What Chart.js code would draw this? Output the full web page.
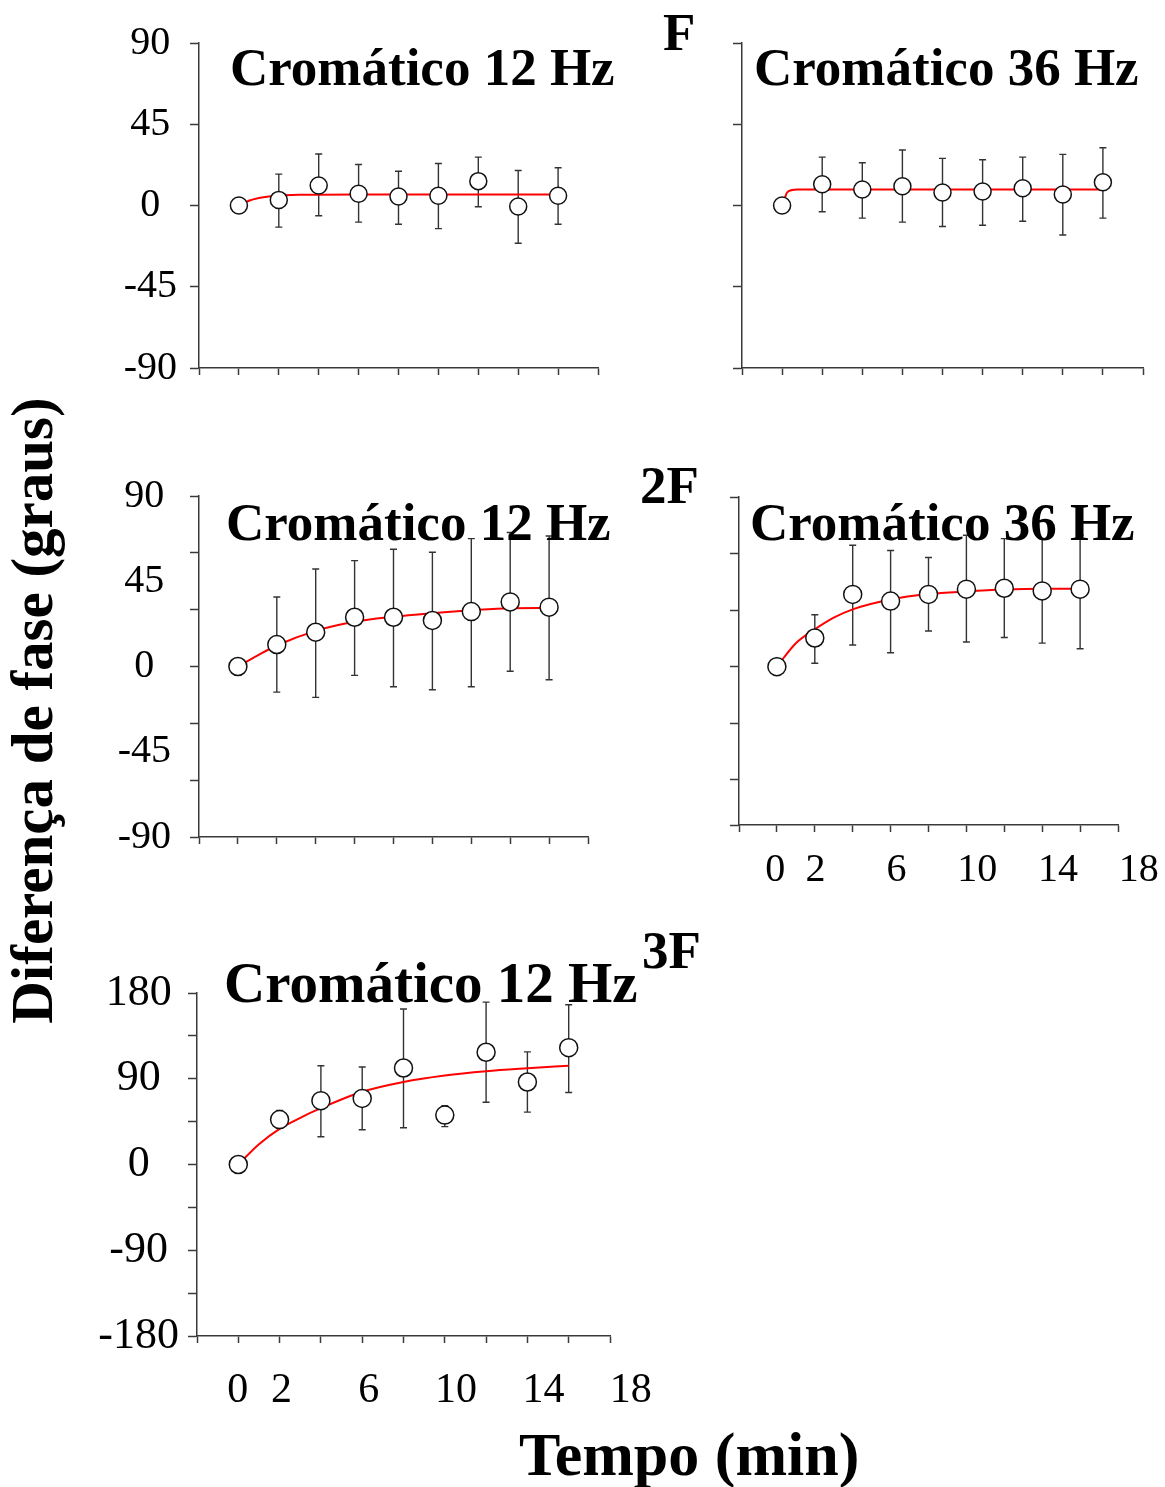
<!DOCTYPE html>
<html>
<head>
<meta charset="utf-8">
<script src="https://cdn.jsdelivr.net/npm/chart.js@4.4.1/dist/chart.umd.min.js"></script>
<style>
  html, body { margin: 0; padding: 0; overflow: hidden; background: #fff; }
  body { position: relative; width: 1165px; height: 1487px; font-family: 'Liberation Serif', 'Times New Roman', serif; }
  .panel { position: absolute; }
  .panel canvas { display: block; }
  .lbl { position: absolute; font-weight: bold; line-height: 1; white-space: nowrap; color: #000; }
</style>
</head>
<body>

<div class="panel"><canvas id="c-f12"></canvas></div>
<div class="panel"><canvas id="c-f36"></canvas></div>
<div class="panel"><canvas id="c-2f12"></canvas></div>
<div class="panel"><canvas id="c-2f36"></canvas></div>
<div class="panel"><canvas id="c-3f12"></canvas></div>

<div class="lbl" style="left:230px; top:41px; font-size:53px;">Cromático 12 Hz</div>
<div class="lbl" style="left:754px; top:41px; font-size:53px;">Cromático 36 Hz</div>
<div class="lbl" style="left:226px; top:496px; font-size:53px;">Cromático 12 Hz</div>
<div class="lbl" style="left:750px; top:496px; font-size:53px;">Cromático 36 Hz</div>
<div class="lbl" style="left:224px; top:954px; font-size:57px;">Cromático 12 Hz</div>

<div class="lbl" style="left:663px; top:6px; font-size:53px;">F</div>
<div class="lbl" style="left:640px; top:459px; font-size:53px;">2F</div>
<div class="lbl" style="left:642px; top:924px; font-size:53px;">3F</div>

<div class="lbl" style="left:-288px; top:681px; width:640px; text-align:center; font-size:59px; transform:rotate(-90deg);">Diferença de fase (graus)</div>
<div class="lbl" style="left:519px; top:1423px; font-size:62px;">Tempo (min)</div>

<script>
// tempo de cada medida (min)
const tempo = [0, 2, 4, 6, 8, 10, 12, 14, 16];
const xMarcas = [-2, 0, 2, 4, 6, 8, 10, 12, 14, 16, 18];
const xRotulos = [0, 2, 6, 10, 14, 18];

// F - cromático 12 Hz
const f12Media = [0, 3.1, 11.1, 6.5, 5.0, 5.4, 13.5, -0.6, 5.4];
const f12Sup = [null, 17.4, 28.5, 22.7, 19.0, 23.3, 26.8, 19.4, 20.9];
const f12Inf = [null, -12.0, -5.7, -9.2, -10.4, -12.8, -0.7, -20.9, -10.4];
const f12AjusteT = [0, 0.5, 1, 1.5, 2, 3, 4, 6, 8, 10, 12, 14, 16];
const f12AjusteY = [0, 2.6, 4.1, 5.0, 5.5, 5.9, 6.0, 6.1, 6.1, 6.1, 6.1, 6.1, 6.1];

// F - cromático 36 Hz
const f36Media = [0, 11.8, 8.9, 10.7, 7.2, 7.8, 9.6, 6.1, 12.9];
const f36Sup = [null, 26.8, 23.7, 30.7, 26.1, 25.3, 26.8, 28.3, 32.0];
const f36Inf = [null, -3.5, -7.0, -9.2, -11.6, -10.9, -8.7, -16.3, -7.0];
const f36AjusteT = [0, 0.13, 0.25, 0.5, 0.75, 1, 2, 4, 6, 8, 10, 12, 14, 16];
const f36AjusteY = [0, 4.0, 7.2, 8.6, 8.9, 8.9, 8.9, 8.9, 8.9, 8.9, 8.9, 8.9, 8.9, 8.9];

// 2F - cromático 12 Hz
const f2x12Media = [0, 11.6, 18.1, 26.0, 26.0, 24.3, 29.0, 34.1, 31.3];
const f2x12Sup = [null, 36.7, 51.5, 55.9, 61.9, 60.3, 67.5, 70.7, 68.9];
const f2x12Inf = [null, -13.5, -16.3, -4.7, -10.7, -12.3, -10.7, -2.5, -7.0];
const f2x12AjusteT = [0, 1, 2, 4, 6, 8, 10, 12, 14, 16];
const f2x12AjusteY = [0, 5.8, 11.1, 18.8, 23.6, 26.2, 28.1, 29.7, 30.8, 30.9];

// 2F - cromático 36 Hz
const f2x36Media = [0, 15.2, 38.3, 34.8, 38.3, 41.1, 41.6, 40.2, 41.1];
const f2x36Sup = [null, 27.5, 64.4, 61.6, 57.9, 69.7, 67.9, 67.9, 69.7];
const f2x36Inf = [null, 1.8, 11.5, 7.4, 18.9, 13.1, 15.5, 12.5, 9.5];
const f2x36AjusteT = [0, 1, 2, 3, 4, 6, 8, 10, 12, 14, 16];
const f2x36AjusteY = [0, 12.4, 19.8, 26.0, 30.4, 35.6, 38.5, 39.9, 40.9, 41.3, 41.3];

// 3F - cromático 12 Hz
const f3x12Media = [0, 47.1, 67.0, 69.4, 101.3, 51.9, 117.8, 86.6, 122.6];
const f3x12Sup = [null, 56.7, 103.7, 102.4, 163.2, 61.8, 170.4, 118.2, 167.6];
const f3x12Inf = [null, 38.0, 29.2, 36.4, 38.5, 39.8, 65.3, 55.0, 75.6];
const f3x12AjusteT = [0, 1, 2, 3, 4, 6, 8, 10, 12, 14, 16];
const f3x12AjusteY = [0, 21.3, 37.4, 49.0, 59.1, 76.3, 86.6, 93.4, 97.9, 101.0, 103.7];

const FONTE = "'Liberation Serif', 'Times New Roman', serif";
const EIXO = '#3a3a3a';

// barras de erro desenhadas antes dos marcadores (ficam por baixo dos círculos)
const errorBarsPlugin = {
    id: 'errorBars',
    beforeDatasetsDraw(chart) {
        const { ctx, scales: { x, y } } = chart;
        chart.data.datasets.forEach(ds => {
            if (!ds.errSup) return;
            ctx.save();
            ctx.strokeStyle = '#333';
            ctx.lineWidth = 1.4;
            ds.data.forEach((p, i) => {
                const hi = ds.errSup[i];
                const lo = ds.errInf[i];
                if (hi == null) return;
                const px = x.getPixelForValue(p.x);
                const yHi = y.getPixelForValue(hi);
                const yLo = y.getPixelForValue(lo);
                ctx.beginPath();
                ctx.moveTo(px, yHi); ctx.lineTo(px, yLo);
                ctx.moveTo(px - 3.5, yHi); ctx.lineTo(px + 3.5, yHi);
                ctx.moveTo(px - 3.5, yLo); ctx.lineTo(px + 3.5, yLo);
                ctx.stroke();
            });
            ctx.restore();
        });
    }
};

// tamanho fixo dos eixos, sem folga extra para rótulos nas pontas
function fixaEixo(s, prop, valor) {
    s[prop] = valor;
    s.paddingLeft = 0;
    s.paddingRight = 0;
    s.paddingTop = 0;
    s.paddingBottom = 0;
}

function makePanel(canvasId, area, cfg) {
    const padL = 130, padT = 30, padR = 45, padB = 90;
    const tickLen = 7;
    const canvas = document.getElementById(canvasId);
    const wrap = canvas.parentNode;
    const w = area.r - area.l + padL + padR;
    const h = area.b - area.t + padT + padB;
    wrap.style.left = (area.l - padL) + 'px';
    wrap.style.top = (area.t - padT) + 'px';
    canvas.width = w;
    canvas.height = h;
    canvas.style.width = w + 'px';
    canvas.style.height = h + 'px';

    const pontos = tempo.map((t, i) => ({ x: t, y: cfg.media[i] }));
    const ajuste = cfg.ajusteT.map((t, i) => ({ x: t, y: cfg.ajusteY[i] }));
    // os rótulos de tempo ficam num eixo próprio, um pouco mais espaçado que as marcas
    const rot = cfg.rotulosX || { min: -2, max: 18 };

    return new Chart(canvas.getContext('2d'), {
        type: 'line',
        data: {
            datasets: [{
                data: pontos,
                errSup: cfg.sup,
                errInf: cfg.inf,
                showLine: false,
                pointRadius: cfg.raio,
                pointBackgroundColor: '#fff',
                pointBorderColor: '#111',
                pointBorderWidth: 1.5
            }, {
                data: ajuste,
                borderColor: '#ff0000',
                borderWidth: 2,
                pointRadius: 0,
                cubicInterpolationMode: 'monotone',
                fill: false
            }]
        },
        options: {
            responsive: false,
            animation: false,
            layout: { autoPadding: false, padding: { left: 0, top: padT, right: padR, bottom: 0 } },
            plugins: { legend: { display: false }, tooltip: { enabled: false } },
            scales: {
                x: {
                    type: 'linear',
                    weight: 0,
                    min: -2,
                    max: 18,
                    afterBuildTicks: s => { s.ticks = xMarcas.map(v => ({ value: v })); },
                    afterFit: s => fixaEixo(s, 'height', tickLen),
                    border: { color: EIXO, width: 1.5 },
                    grid: { drawOnChartArea: false, tickLength: tickLen, tickColor: EIXO, tickWidth: 1.5 },
                    ticks: { display: false }
                },
                xr: {
                    type: 'linear',
                    position: 'bottom',
                    weight: 1,
                    min: rot.min,
                    max: rot.max,
                    afterBuildTicks: s => { s.ticks = xRotulos.map(v => ({ value: v })); },
                    afterFit: s => fixaEixo(s, 'height', padB - tickLen),
                    border: { display: false },
                    grid: { display: false, drawTicks: false },
                    ticks: {
                        padding: cfg.xPad || 0,
                        maxRotation: 0,
                        autoSkip: false,
                        color: '#000',
                        font: { family: FONTE, size: cfg.xFonte || 40 },
                        callback: v => cfg.xLabels ? String(v) : ''
                    }
                },
                y: {
                    type: 'linear',
                    min: cfg.yMin,
                    max: cfg.yMax,
                    afterBuildTicks: s => { s.ticks = cfg.yTicks.map(v => ({ value: v })); },
                    afterFit: s => fixaEixo(s, 'width', padL),
                    border: { color: EIXO, width: 1.5 },
                    grid: {
                        drawOnChartArea: false,
                        tickLength: 9,
                        tickWidth: 1.5,
                        tickColor: c => (c.tick && cfg.marca(c.tick.value)) ? EIXO : 'rgba(0,0,0,0)'
                    },
                    ticks: {
                        crossAlign: 'center',
                        padding: cfg.yPad || 0,
                        autoSkip: false,
                        color: '#000',
                        font: { family: FONTE, size: cfg.yFonte || 40 },
                        callback: v => cfg.rotulo(v) ? String(v) : ''
                    }
                }
            }
        },
        plugins: [errorBarsPlugin]
    });
}

const ticks45 = [-90, -45, 0, 45, 90];

makePanel('c-f12', { l: 199, r: 598, t: 43, b: 368 }, {
    media: f12Media, sup: f12Sup, inf: f12Inf, ajusteT: f12AjusteT, ajusteY: f12AjusteY,
    yMin: -90, yMax: 90, yTicks: ticks45, marca: () => true, rotulo: () => true,
    yPad: 13, raio: 8.5
});

makePanel('c-f36', { l: 742, r: 1143, t: 43, b: 368 }, {
    media: f36Media, sup: f36Sup, inf: f36Inf, ajusteT: f36AjusteT, ajusteY: f36AjusteY,
    yMin: -90, yMax: 90, yTicks: ticks45, marca: () => true, rotulo: () => false,
    raio: 8.5
});

makePanel('c-2f12', { l: 199, r: 588, t: 496, b: 837 }, {
    media: f2x12Media, sup: f2x12Sup, inf: f2x12Inf, ajusteT: f2x12AjusteT, ajusteY: f2x12AjusteY,
    yMin: -90, yMax: 90, yTicks: [-90, -60, -45, -30, 0, 30, 45, 60, 90],
    marca: v => v % 30 === 0, rotulo: v => v % 45 === 0,
    yPad: 19, raio: 9
});

makePanel('c-2f36', { l: 739, r: 1118, t: 497, b: 825 }, {
    media: f2x36Media, sup: f2x36Sup, inf: f2x36Inf, ajusteT: f2x36AjusteT, ajusteY: f2x36AjusteY,
    yMin: -84, yMax: 90, yTicks: [-84, -60, -30, 0, 30, 60, 90],
    marca: () => true, rotulo: () => false,
    xLabels: true, xFonte: 40, xPad: 14, rotulosX: { min: -1.79, max: 16.97 }, raio: 9
});

makePanel('c-3f12', { l: 197, r: 610, t: 993, b: 1336 }, {
    media: f3x12Media, sup: f3x12Sup, inf: f3x12Inf, ajusteT: f3x12AjusteT, ajusteY: f3x12AjusteY,
    yMin: -180, yMax: 180, yTicks: [-180, -135, -90, -45, 0, 45, 90, 135, 180],
    marca: () => true, rotulo: v => v % 90 === 0,
    yFonte: 44, yPad: 9, xLabels: true, xFonte: 42, xPad: 23, rotulosX: { min: -1.87, max: 17.05 }, raio: 9
});
</script>
</body>
</html>
